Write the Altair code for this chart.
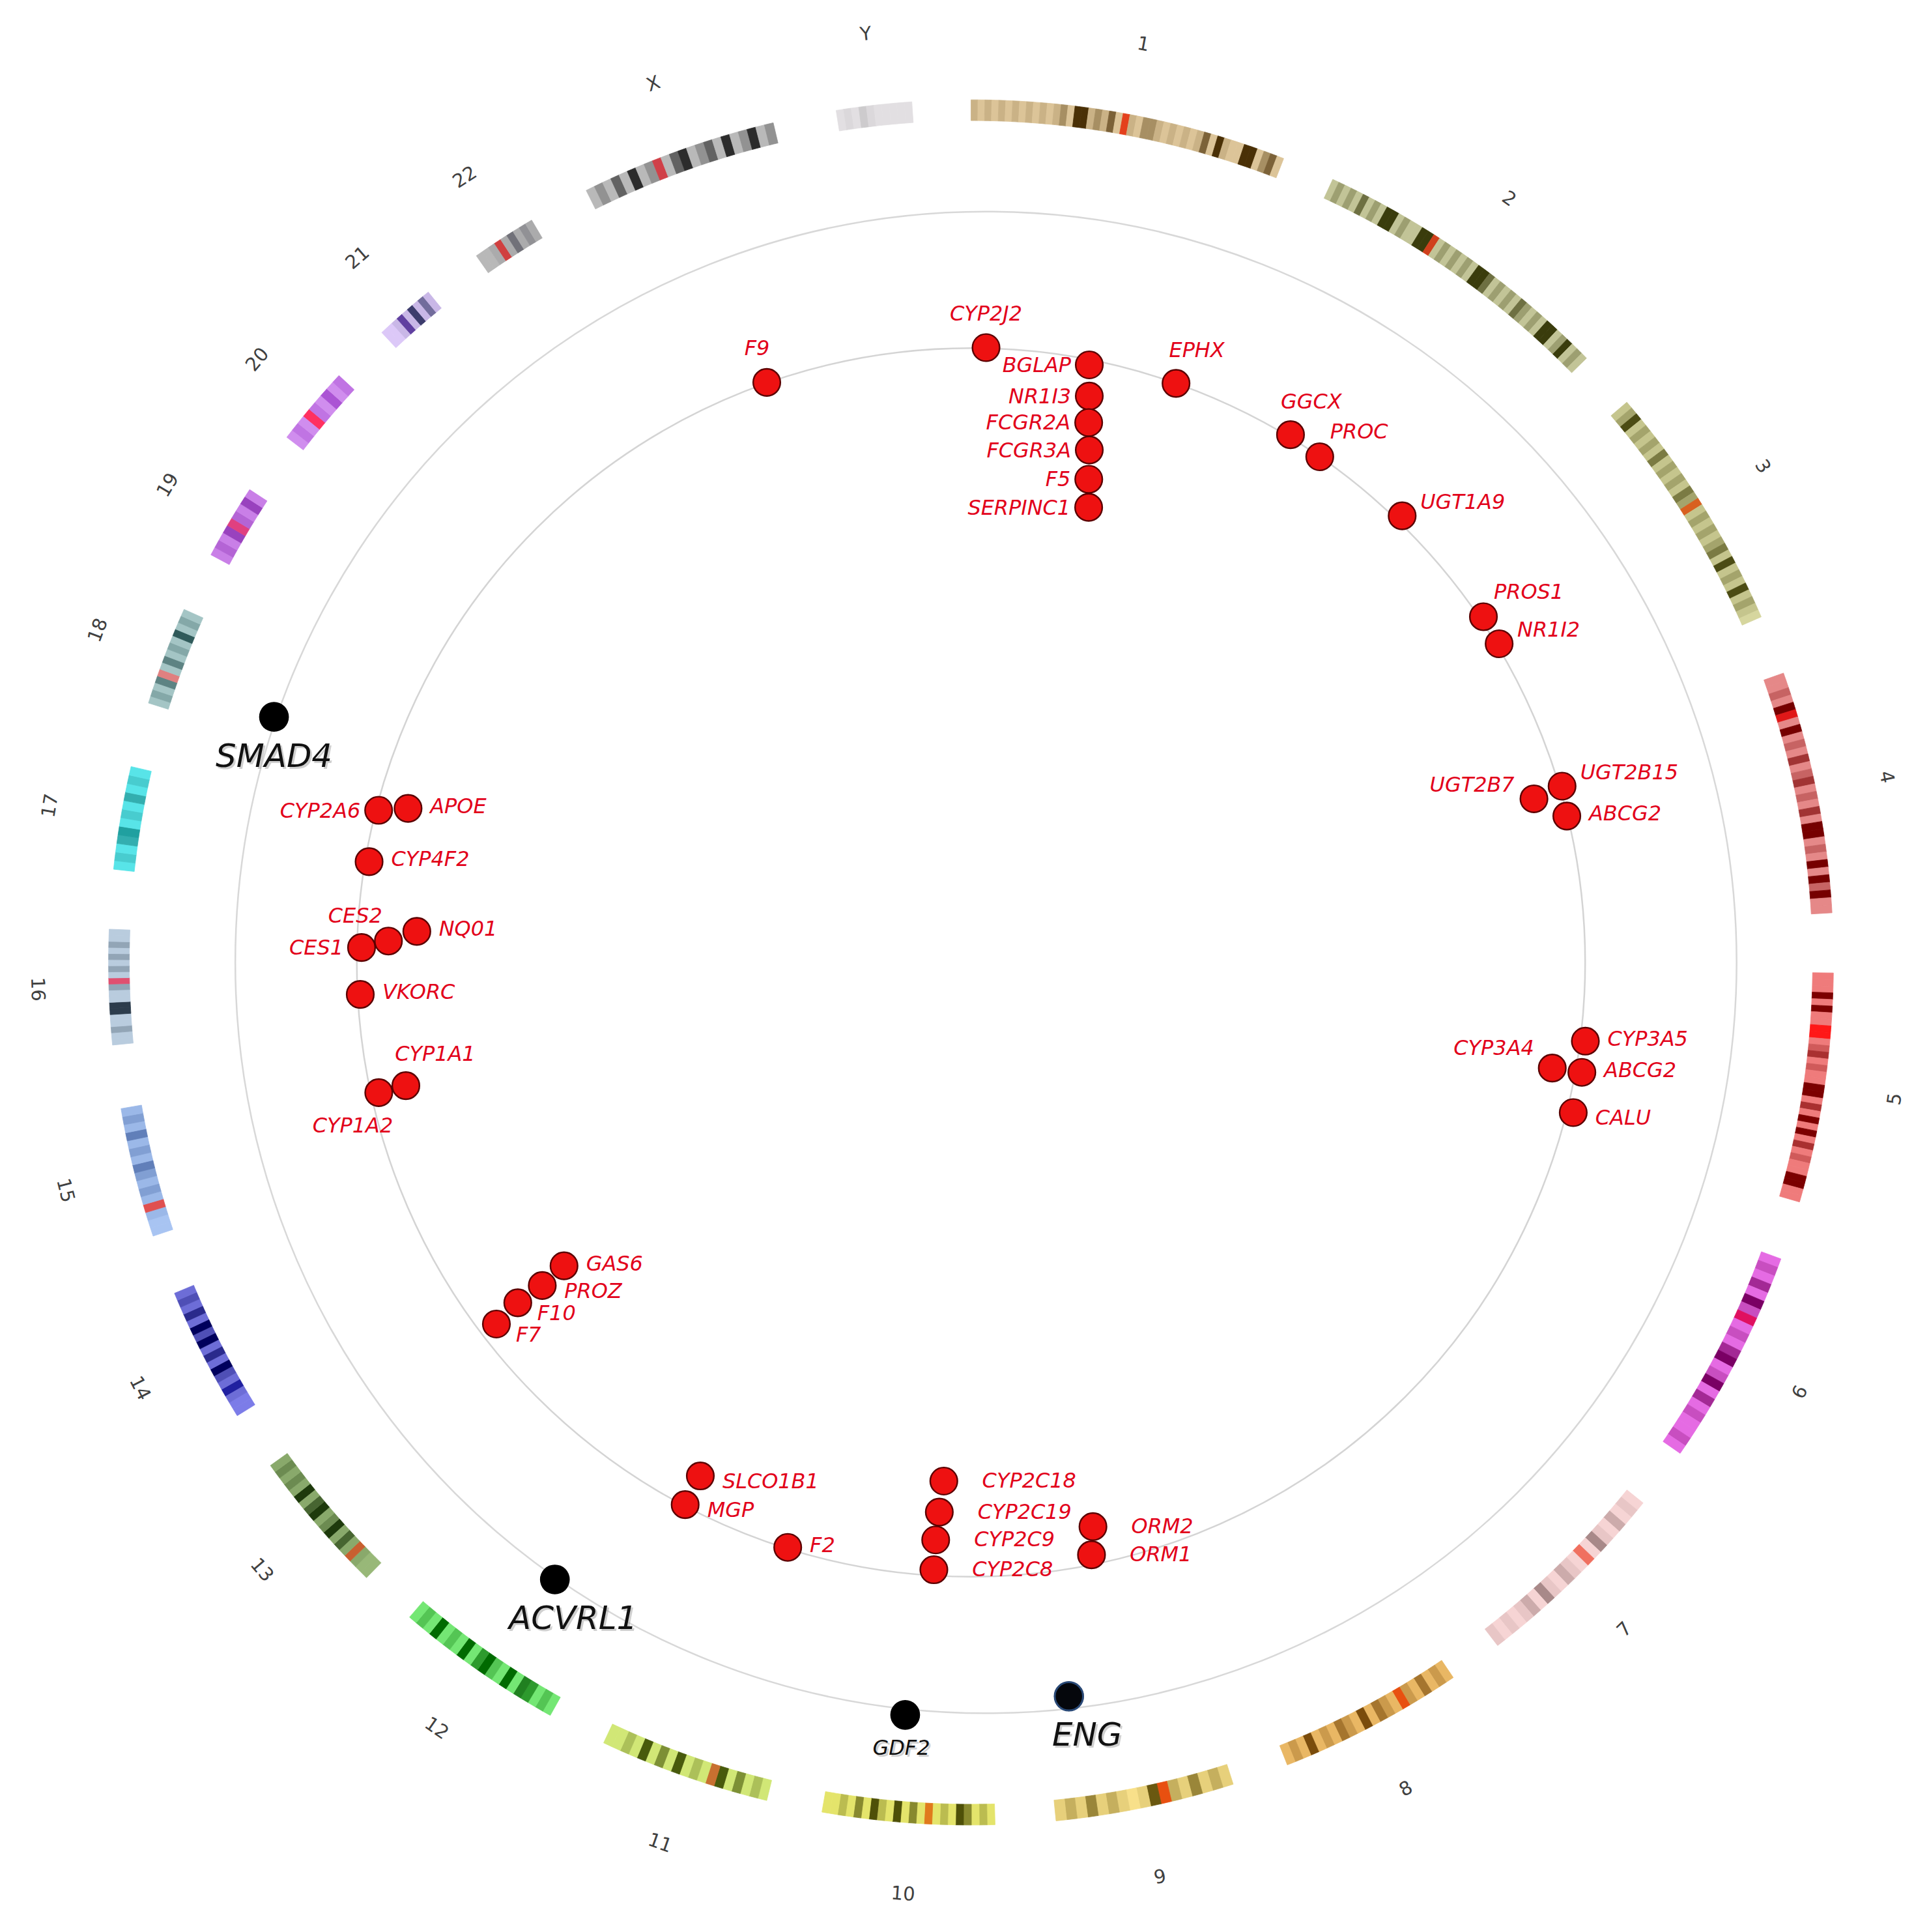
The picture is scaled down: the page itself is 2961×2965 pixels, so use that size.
import altair as alt
import pandas as pd

# ---------------- chromosome data ----------------
chrom_names = ["1", "2", "3", "4", "5", "6", "7", "8", "9", "10", "11", "12",
               "13", "14", "15", "16", "17", "18", "19", "20", "21", "22", "X", "Y"]
chrom_mb = [249.3, 243.2, 198.0, 191.2, 180.9, 171.1, 159.1, 146.4, 141.2, 135.5,
            135.0, 133.9, 115.2, 107.3, 102.5, 90.4, 81.2, 78.1, 59.1, 63.0,
            48.1, 51.3, 155.3, 59.4]
# start of each chromosome, degrees clockwise from 12 o'clock
chrom_start = [0.0, 24.8, 49.5, 70.4, 90.7, 110.1, 128.8, 146.0, 162.3, 178.4,
               193.7, 209.2, 224.5, 238.3, 251.5, 264.5, 276.2, 287.5, 298.2, 307.5,
               316.9, 325.0, 333.5, 351.0]
chrom_light = ["#dcc498", "#d4d6aa", "#d6d69e", "#f49a9a", "#ff8c8c", "#f47af4",
               "#f6d4d4", "#f8c670", "#f8e08a", "#f8f878", "#e4fa84", "#84f884",
               "#98b878", "#7c7ce8", "#a8c4f2", "#cce0f2", "#60f0f4", "#b4d4d4",
               "#d48cf0", "#d89af4", "#dcc8f8", "#b8b8b8", "#cccccc", "#e2dfe2"]
chrom_dark = ["#4a3006", "#3a3c0c", "#4c4c14", "#760000", "#7c0000", "#7a0064",
              "#806262", "#7a4c0c", "#6a5810", "#4e5008", "#485a0c", "#006a00",
              "#1e3a0c", "#00005c", "#3c5c9c", "#2c3c4c", "#1c8c8c", "#305a5a",
              "#7a1ca4", "#9430c4", "#3c3c6c", "#4c4c58", "#2c2c2c", "#a8a8a8"]
chrom_red = ["#e4401c", "#d0401c", "#d86020", "#e01818", "#ff1818", "#e01060",
             "#f07060", "#e85010", "#e85010", "#e07a1c", "#c87030", "#208020",
             "#c86030", "#2020a0", "#e05050", "#e05070", "#20a0a0", "#e08080",
             "#e04080", "#ff3060", "#6040a0", "#d04040", "#d04048", "#f0c8d0"]
chrom_bands = [
    "1010101010101204412130r10221010101304100440230",
    "12121312144121144r1212121443121213212144124121",
    "1241212131212132r12121231412141210",
    "11214r14121312312131441214142411",
    "11141411rr1231211441314141312114411",
    "1213142r1213412413121121",
    "01020130r0120130210101",
    "121312r123141231214121",
    "121312r4101213121",
    "12134121r1314124131211",
    "121314r121413141211",
    "1213r141243141214121",
    "001r131421431412121",
    "001r12413142413121",
    "001r121231213121",
    "1121144112r12121211",
    "1213r1213121",
    "1213r131214121",
    "1213r2131",
    "121r21312",
    "001r14131",
    "001r13121",
    "12131412r1341231412412",
    "0102100000",
]

# ---------------- gene data ----------------
gene_names = ["F9", "CYP2J2", "BGLAP", "NR1I3", "FCGR2A", "FCGR3A", "F5", "SERPINC1",
              "EPHX", "GGCX", "PROC", "UGT1A9", "PROS1", "NR1I2", "UGT2B15", "UGT2B7",
              "ABCG2", "CYP3A5", "CYP3A4", "ABCG2", "CALU", "ORM2", "ORM1", "CYP2C18",
              "CYP2C19", "CYP2C9", "CYP2C8", "F2", "MGP", "SLCO1B1", "GAS6", "PROZ",
              "F10", "F7", "CYP1A1", "CYP1A2", "VKORC", "CES1", "CES2", "NQ01",
              "CYP4F2", "CYP2A6", "APOE"]
gene_angle = [340.6, 1.4, 11.2, 11.8, 12.3, 13.0, 13.7, 14.5,
              19.5, 31.2, 34.6, 44.0, 56.0, 58.9, 73.4, 73.8,
              76.2, 97.3, 100.3, 100.2, 104.0, 167.8, 168.5, 183.0,
              183.3, 183.5, 183.5, 197.4, 207.8, 207.8, 233.3, 233.0,
              233.1, 232.7, 257.7, 257.6, 267.0, 271.4, 272.1, 273.2,
              279.5, 284.4, 285.3]
gene_track = [946, 946, 937, 890, 850, 809, 765, 723,
              945, 949, 945, 955, 951, 949, 949, 902,
              944, 953, 909, 955, 955, 888, 930, 799,
              847, 890, 936, 943, 943, 893, 781, 826,
              872, 918, 890, 933, 941, 938, 897, 854,
              939, 941, 898]
gene_side = ["Nw", "N", "W", "W", "W", "W", "W", "W",
             "NE", "NE", "EN", "Eu", "EN", "Eu", "Eu", "Wu",
             "E", "E", "Wuu", "E", "Ed", "EE", "EE", "EE",
             "EE", "EE", "EE", "E", "Ed", "Ed", "E", "Ed",
             "Edd", "Edd", "NE2", "SW", "E", "W", "NW", "E",
             "E", "W", "E"]

key_names = ["SMAD4", "ACVRL1", "GDF2", "ENG"]
key_angle = [289.4, 214.0, 185.0, 172.4]
key_track = [1137, 1145, 1162, 1139]
key_side = ["S", "SE", "Ss", "SE"]
key_major = [True, True, False, True]

# ---------------- layout / style (not data) ----------------
H = 1466
DEG_PER_MB = 0.08527
R_OUT, R_IN = 1327, 1295
R_LABEL = 1437
SIDES = {
    "N": (0, -52, "center"), "Nw": (-15, -52, "center"), "NE": (32, -50, "center"),
    "NE2": (45, -48, "center"), "NW": (-51, -38, "center"), "SW": (-40, 51, "center"),
    "EN": (16, -38, "left"), "Eu": (28, -21, "left"), "E": (34, -3, "left"),
    "Ed": (34, 9, "left"), "Edd": (30, 17, "left"), "EE": (59, 0, "left"),
    "W": (-28, 1, "right"), "Wu": (-30, -21, "right"), "Wuu": (-28, -30, "right"),
    "S": (0, 62, "center"), "SE": (28, 61, "center"), "Ss": (-6, 51, "center"),
}
FONT = "DejaVu Sans"


def mix(c1, c2, t):
    a = [int(c1[i:i + 2], 16) for i in (1, 3, 5)]
    b = [int(c2[i:i + 2], 16) for i in (1, 3, 5)]
    return "#" + "".join(f"{round(x + (y - x) * t):02x}" for x, y in zip(a, b))


SHADE = [0.0, 0.12, 0.36, 0.66, 1.0]
band_rows, label_rows = [], []
for name, mb, st, bands, lc, dc, rc in zip(chrom_names, chrom_mb, chrom_start,
                                           chrom_bands, chrom_light, chrom_dark,
                                           chrom_red):
    span = mb * DEG_PER_MB
    n = len(bands)
    for i, ch in enumerate(bands):
        col = rc if ch == "r" else mix(lc, dc, SHADE[int(ch)])
        band_rows.append({"chrom": name, "a0": st + span * i / n,
                          "a1": st + span * (i + 1) / n, "color": col})
    label_rows.append({"chrom": name, "mid": st + span / 2})
bands_df = pd.DataFrame(band_rows)
labels_df = pd.DataFrame(label_rows)

genes = pd.DataFrame({"name": gene_names, "ang": gene_angle, "trk": gene_track,
                      "side": gene_side})
genes["ldx"] = [SIDES[s][0] for s in gene_side]
genes["ldy"] = [SIDES[s][1] for s in gene_side]
genes["anchor"] = [SIDES[s][2] for s in gene_side]

keys = pd.DataFrame({"name": key_names, "ang": key_angle, "trk": key_track,
                     "side": key_side, "major": key_major})
keys["ldx"] = [SIDES[s][0] for s in key_side]
keys["ldy"] = [SIDES[s][1] for s in key_side]

xs = alt.Scale(domain=[-H, H], nice=False, zero=False)
ys = alt.Scale(domain=[-H, H], nice=False, zero=False)
XY = dict(x="datum.trk*sin(datum.ang*PI/180)", y="datum.trk*cos(datum.ang*PI/180)")
LXY = dict(lx="datum.trk*sin(datum.ang*PI/180)+datum.ldx",
           ly="datum.trk*cos(datum.ang*PI/180)-datum.ldy")


def enc(xf, yf, **kw):
    return dict(x=alt.X(xf, type="quantitative", scale=xs, axis=None),
                y=alt.Y(yf, type="quantitative", scale=ys, axis=None), **kw)


one = pd.DataFrame({"k": [0]})
inner_circle = alt.Chart(one).mark_point(
    shape="circle", filled=False, size=(2 * 945) ** 2, stroke="#d4d4d4",
    strokeWidth=2.5, opacity=1).encode(x=alt.value(H), y=alt.value(H))
outer_circle = alt.Chart(one).mark_point(
    shape="circle", filled=False, size=(2 * 1155) ** 2, stroke="#d8d8d8",
    strokeWidth=2.5, opacity=1).encode(x=alt.value(H + 23), y=alt.value(H))

ideogram = alt.Chart(bands_df).transform_calculate(
    t0="datum.a0*PI/180", t1="datum.a1*PI/180"
).mark_arc(radius=R_OUT, radius2=R_IN, strokeWidth=0.8).encode(
    theta=alt.Theta("t0:Q", scale=None, stack=None),
    theta2="t1:Q",
    color=alt.Color("color:N", scale=None),
    stroke=alt.Stroke("color:N", scale=None),
)

chrom_text = alt.Chart(labels_df).transform_calculate(
    x=f"{R_LABEL}*sin(datum.mid*PI/180)",
    y=f"{R_LABEL}*cos(datum.mid*PI/180)",
    rot="(datum.mid<90||datum.mid>=270)?datum.mid:(datum.mid+180)%360",
).mark_text(font="DejaVu Sans", fontSize=29, color="#404040",
            align="center", baseline="middle").encode(
    **enc("x", "y", text="chrom:N", angle=alt.Angle("rot:Q", scale=None)))

dots = alt.Chart(genes).transform_calculate(**XY).mark_point(
    shape="circle", filled=True, size=1750, fill="#ee1111", stroke="#5a0000",
    strokeWidth=2.4, opacity=1).encode(**enc("x", "y"))

gene_text = []
for al in ["left", "center", "right"]:
    gene_text.append(
        alt.Chart(genes).transform_filter(f"datum.anchor=='{al}'")
        .transform_calculate(**LXY)
        .mark_text(align=al, baseline="middle", font=FONT,
                   fontStyle="italic", fontSize=32, color="#e2001a")
        .encode(**enc("lx", "ly", text="name:N")))

key_dots = alt.Chart(keys).transform_calculate(**XY).mark_point(
    shape="circle", filled=True, size=2100, fill="#000000", opacity=1
).encode(**enc("x", "y"))
eng_dot = alt.Chart(keys).transform_filter("datum.name=='ENG'").transform_calculate(**XY).mark_point(
    shape="circle", filled=True, size=1900, fill="#05070c", stroke="#2a4a78",
    strokeWidth=3, opacity=1).encode(**enc("x", "y"))

key_text = []
for major, fs in [(True, 50), (False, 32)]:
    base = alt.Chart(keys).transform_filter(
        "datum.major" if major else "!datum.major").transform_calculate(**LXY)
    key_text.append(base.mark_text(align="center", baseline="middle", font=FONT,
                                   fontStyle="italic", fontSize=fs, color="#999999",
                                   opacity=0.45, dx=3, dy=3)
                    .encode(**enc("lx", "ly", text="name:N")))
    key_text.append(base.mark_text(align="center", baseline="middle", font=FONT,
                                   fontStyle="italic", fontSize=fs, color="#111111")
                    .encode(**enc("lx", "ly", text="name:N")))

chart = alt.layer(
    inner_circle, outer_circle, ideogram, chrom_text, dots, *gene_text,
    key_dots, eng_dot, *key_text
).properties(
    width=2 * H, height=2 * H,
    padding={"left": 20, "top": 3, "right": 0, "bottom": 0},
    autosize=alt.AutoSizeParams(type="none"),
).configure_view(stroke=None)

chart.save("out.html", embed_options={"renderer": "svg", "actions": False})
